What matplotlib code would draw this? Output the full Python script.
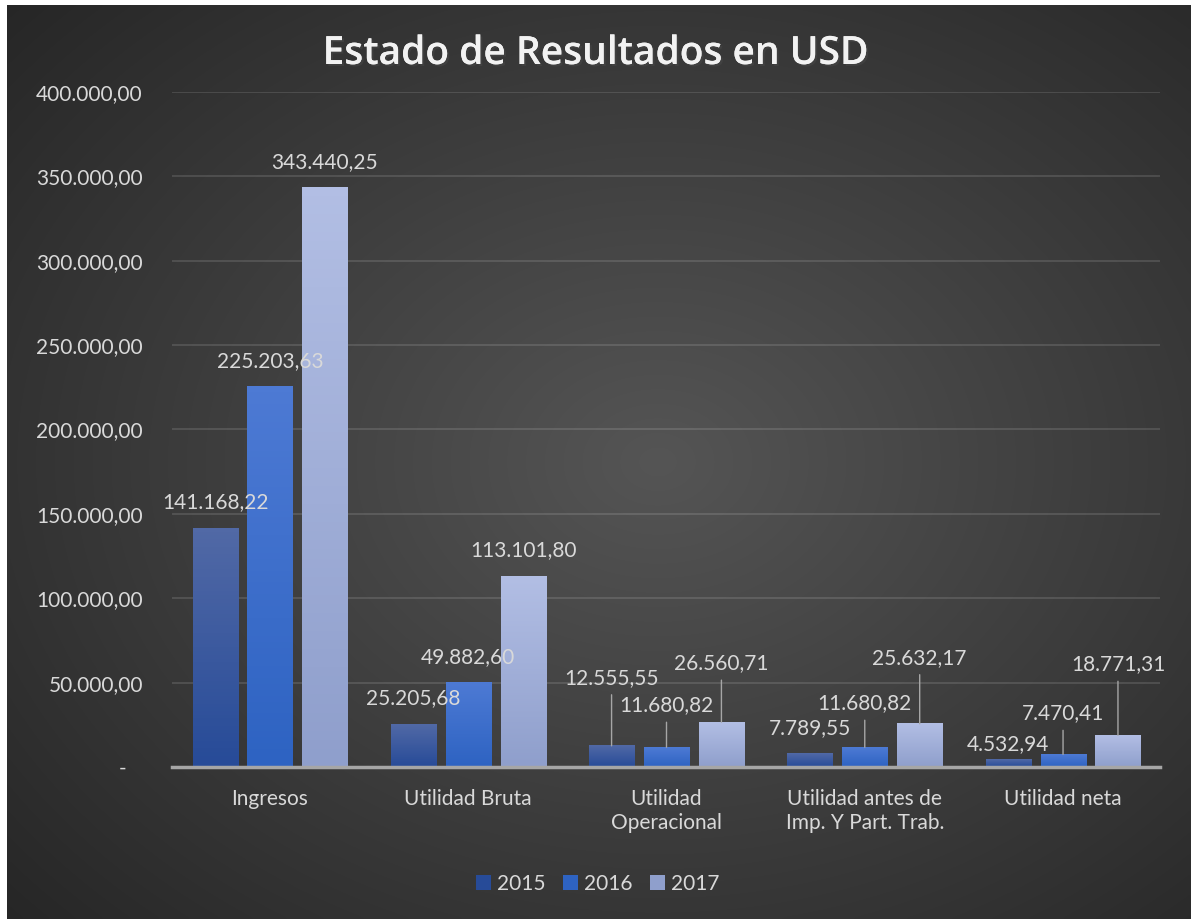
import numpy as np
import matplotlib.pyplot as plt
import matplotlib.patheffects as pe
from matplotlib.colors import LinearSegmentedColormap
from matplotlib.patches import Patch

categories = ['Ingresos', 'Utilidad Bruta', 'Utilidad\nOperacional',
              'Utilidad antes de\nImp. Y Part. Trab.', 'Utilidad neta']
years = ['2015', '2016', '2017']
v2015 = [141168.22, 25205.68, 12555.55, 7789.55, 4532.94]
v2016 = [225203.63, 49882.60, 11680.82, 11680.82, 7470.41]
v2017 = [343440.25, 113101.80, 26560.71, 25632.17, 18771.31]
yticks = [0, 50000, 100000, 150000, 200000, 250000, 300000, 350000, 400000]

# label lift above bar top, in pixels (Excel moved some of them by hand)
lifts = [[27, 26, 68, 26, 15],
         [26, 26, 42, 44, 41],
         [25, 26, 59, 66, 71]]

# gradient colours top -> bottom
grads = [('#5169a6', '#274b98'),
         ('#4d7ad4', '#2e63c2'),
         ('#b2bee4', '#8f9fcc')]

FONT = 'Lato'
TXT = '#d9d9d9'


def fmt(v):
    s = f'{v:,.2f}'
    return s.replace(',', 'X').replace('.', ',').replace('X', '.')


W, H = 1191, 919
fig = plt.figure(figsize=(W / 100, H / 100), dpi=100, facecolor='white')

# dark radial background
bg = fig.add_axes([7 / W, 0, 1 - 7 / W, 1 - 5 / H])
bg.set_axis_off()
yy, xx = np.mgrid[0:1:300j, 0:1:390j]
r = np.sqrt(((xx - 0.55) / 0.75) ** 2 + ((yy - 0.5) / 0.75) ** 2)
r = np.clip(r, 0, 1)
shade = (0x55 + (0x26 - 0x55) * r) / 255
bg.imshow(np.dstack([shade, shade, shade]), aspect='auto', extent=[0, 1, 0, 1],
          interpolation='bicubic')
bg.set_xlim(0, 1)
bg.set_ylim(0, 1)

ax = fig.add_axes([172 / W, 1 - 767 / H, (1160 - 172) / W, (767 - 92) / H])
ax.set_facecolor('none')

series = [v2015, v2016, v2017]
x = np.arange(len(categories))
width = 0.227
step = 0.277

for i, vals in enumerate(series):
    bars = ax.bar(x + (i - 1) * step, vals, width, color='none', zorder=3)
    cmap = LinearSegmentedColormap.from_list(f'g{i}', [grads[i][1], grads[i][0]])
    for j, b in enumerate(bars):
        x0, h = b.get_x(), b.get_height()
        ax.imshow(np.linspace(0, 1, 64).reshape(-1, 1)[::-1], cmap=cmap,
                  extent=[x0, x0 + b.get_width(), 0, h], aspect='auto', zorder=3)
        lift = lifts[i][j]
        arrow = None
        if lift > 35:
            arrow = dict(arrowstyle='-', color='#a6a6a6', lw=1,
                         relpos=(0.5, 0), shrinkA=3, shrinkB=0)
        ax.annotate(fmt(vals[j]), (x0 + b.get_width() / 2, h),
                    xytext=(0, lift), textcoords='offset pixels',
                    ha='center', va='center', fontsize=15, color=TXT,
                    family=FONT, arrowprops=arrow, zorder=4)

ax.set_xlim(-0.494, 4.489)
ax.set_ylim(0, 400000)
ax.set_yticks(yticks)
ax.set_yticklabels(['-   '] + [fmt(t) for t in yticks[1:]])
ax.set_xticks(x)
ax.set_xticklabels(categories, linespacing=1.25)
ax.tick_params(axis='both', length=0, labelsize=15, labelcolor=TXT)
ax.tick_params(axis='y', pad=21)
ax.tick_params(axis='x', pad=16)
for lab in ax.get_xticklabels() + ax.get_yticklabels():
    lab.set_family(FONT)

ax.grid(axis='y', color='white', alpha=0.12, lw=1.5, zorder=0)
ax.set_axisbelow(True)
for s in ['top', 'right', 'left']:
    ax.spines[s].set_visible(False)
ax.spines['bottom'].set_color('#a6a6a6')
ax.spines['bottom'].set_linewidth(2.5)
ax.spines['bottom'].set_zorder(5)

fig.text(0.5, 1 - 54 / H, 'Estado de Resultados en USD', ha='center', va='center',
         fontsize=28, weight='semibold', color='#f2f2f2', family='Open Sans',
         path_effects=[pe.withSimplePatchShadow(offset=(1.5, -1.5), alpha=0.5),
                       pe.Normal()])

handles = [Patch(facecolor=grads[i][1]) for i in range(3)]
leg = fig.legend(handles, years, loc='center', bbox_to_anchor=(0.502, 1 - 884 / H),
                 ncol=3, frameon=False, handlelength=0.7,
                 handleheight=0.7, handletextpad=0.3, columnspacing=0.85,
                 prop={'family': FONT, 'size': 15})
for t in leg.get_texts():
    t.set_color(TXT)

fig.savefig('out.png', dpi=100, facecolor=fig.get_facecolor())
